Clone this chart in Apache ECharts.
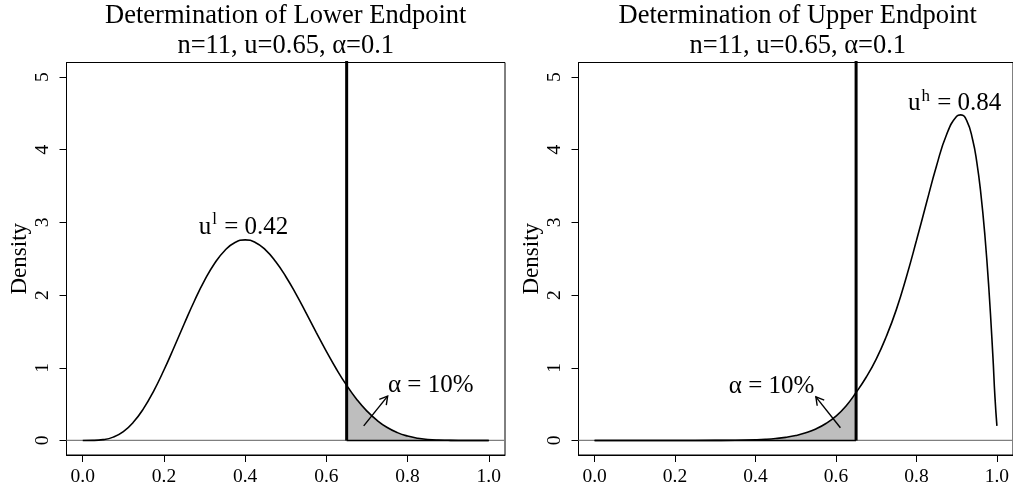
<!DOCTYPE html>
<html>
<head>
<meta charset="utf-8">
<script src="https://cdn.jsdelivr.net/npm/echarts@6/dist/echarts.min.js"></script>
<style>
html,body{margin:0;padding:0;background:#fff;}
#chart{width:1013px;height:490px;}
</style>
</head>
<body>
<div id="chart"></div>
<script>
// ---- data ----
const titleLeft = ['Determination of Lower Endpoint', 'n=11, u=0.65, α=0.1'];
const titleRight = ['Determination of Upper Endpoint', 'n=11, u=0.65, α=0.1'];
const xTicks = [0, 0.2, 0.4, 0.6, 0.8, 1.0];
const yTicks = [0, 1, 2, 3, 4, 5];
const cutoff = 0.65;

const xLeft = [0, 0.025, 0.05, 0.075, 0.10, 0.125, 0.15, 0.175, 0.20, 0.225, 0.25, 0.275,
               0.30, 0.325, 0.35, 0.375, 0.40, 0.425, 0.45, 0.475, 0.50, 0.525, 0.55, 0.575,
               0.60, 0.625, 0.65, 0.675, 0.70, 0.725, 0.75, 0.775, 0.80, 0.825, 0.85, 0.875,
               0.90, 0.925, 0.95, 1.00];
const densLeft = [0, 0.001, 0.011, 0.046, 0.123, 0.253, 0.441, 0.683, 0.969, 1.283, 1.606, 1.919,
                  2.201, 2.438, 2.614, 2.723, 2.759, 2.724, 2.622, 2.462, 2.256, 2.016, 1.755, 1.488,
                  1.226, 0.980, 0.758, 0.565, 0.404, 0.276, 0.178, 0.108, 0.061, 0.031, 0.014, 0.005,
                  0.002, 0.0003, 0, 0];

const xRight = [0, 0.10, 0.20, 0.30, 0.35, 0.40, 0.425, 0.45, 0.475, 0.50, 0.525, 0.55, 0.575,
                0.60, 0.625, 0.65, 0.675, 0.70, 0.725, 0.75, 0.775, 0.80, 0.825, 0.85, 0.875,
                0.90, 0.91, 0.925, 0.94, 0.95, 0.96, 0.97, 0.98, 0.99, 0.995, 1.00];
const densRight = [0, 0, 0, 0.001, 0.003, 0.009, 0.015, 0.026, 0.043, 0.068, 0.105, 0.158, 0.233,
                   0.335, 0.475, 0.660, 0.870, 1.120, 1.430, 1.800, 2.250, 2.750, 3.270, 3.780, 4.210,
                   4.460, 4.480, 4.400, 4.130, 3.830, 3.400, 2.830, 2.090, 1.160, 0.610, 0.200];

const arrowsLeft = [[0.692, 0.20, 0.751, 0.61]];
const arrowsRight = [[0.611, 0.175, 0.55, 0.60]];

const textsLeft = [
  {x: 0.396, y: 2.93, text: '{b|u}{s|l}{b| = 0.42}'},
  {x: 0.857, y: 0.76, text: '{b|α = 10%}'}
];
const textsRight = [
  {x: 0.895, y: 4.63, text: '{b|u}{s|h}{b| = 0.84}'},
  {x: 0.44, y: 0.75, text: '{b|α = 10%}'}
];

// ---- build ----
const FONT = 'Liberation Serif';
const pairs = (xs, ys) => xs.map((x, i) => [x, ys[i]]);
const curveL = pairs(xLeft, densLeft);
const curveR = pairs(xRight, densRight);
const shadeL = curveL.filter(p => p[0] >= cutoff);
const shadeR = curveR.filter(p => p[0] <= cutoff);

const grids = [
  {left: 66.5, top: 62.5, width: 438.5, height: 392.5},
  {left: 578.5, top: 62.5, width: 438.5, height: 392.5}
];

function xAxisFor(gi) {
  return {
    gridIndex: gi, type: 'value', min: -0.04, max: 1.04, position: 'bottom',
    axisLine: {show: true, onZero: false, lineStyle: {color: '#000', width: 1}},
    splitLine: {show: false},
    axisTick: {show: true, inside: false, customValues: xTicks, length: 7, lineStyle: {color: '#000', width: 1}},
    axisLabel: {show: true, customValues: xTicks, margin: 12, color: '#000',
      fontFamily: FONT, fontSize: 19.5, formatter: v => v.toFixed(1)}
  };
}
function yAxisFor(gi) {
  return {
    gridIndex: gi, type: 'value', min: -0.2, max: 5.2, position: 'left',
    name: 'Density', nameLocation: 'middle', nameGap: 30,
    nameTextStyle: {fontFamily: FONT, fontSize: 23, color: '#000'},
    axisLine: {show: true, onZero: false, lineStyle: {color: '#000', width: 1}},
    splitLine: {show: false},
    axisTick: {show: true, inside: false, customValues: yTicks, length: 7, lineStyle: {color: '#000', width: 1}},
    axisLabel: {show: true, customValues: yTicks, rotate: 90, margin: 14, color: '#000',
      fontFamily: FONT, fontSize: 19.5, formatter: v => String(v)}
  };
}

const rich = {
  b: {fontFamily: FONT, fontSize: 25, color: '#000', lineHeight: 32, textBorderWidth: 0, opacity: 1},
  s: {fontFamily: FONT, fontSize: 17, color: '#000', verticalAlign: 'top', lineHeight: 14, padding: [0, 1, 0, 1], textBorderWidth: 0, opacity: 1}
};

function panelSeries(gi, curve, shade, shadeFrom, shadeTo, arrows, texts) {
  const ax = {xAxisIndex: gi, yAxisIndex: gi};
  return [
    // zero reference line
    Object.assign({type: 'line', data: [[-0.04, 0], [1.04, 0]], symbol: 'none', silent: true,
      lineStyle: {color: '#7f7f7f', width: 1.2}, z: 1}, ax),
    // shaded tail polygon
    Object.assign({type: 'line', data: shade, symbol: 'none', smooth: true, silent: true,
      lineStyle: {width: 0}, areaStyle: {color: '#bebebe', opacity: 1}, z: 2}, ax),
    // polygon bottom border
    Object.assign({type: 'line', data: [[shadeFrom, 0], [shadeTo, 0]], symbol: 'none', silent: true,
      lineStyle: {color: '#000', width: 1.5}, z: 3}, ax),
    // density curve
    Object.assign({type: 'line', data: curve, symbol: 'none', smooth: true, silent: true,
      lineStyle: {color: '#000', width: 1.6}, z: 4}, ax),
    // cutoff line
    Object.assign({type: 'line', data: [[cutoff, 0], [cutoff, 5.3]], symbol: 'none', silent: true,
      lineStyle: {color: '#000', width: 3}, z: 5}, ax),
    // arrows
    Object.assign({type: 'custom', data: arrows, silent: true, z: 6,
      renderItem: (params, api) => {
        const p0 = api.coord([api.value(0), api.value(1)]);
        const p1 = api.coord([api.value(2), api.value(3)]);
        const ang = Math.atan2(p1[1] - p0[1], p1[0] - p0[0]);
        const L = 9, a = Math.PI / 6;
        const h1 = [p1[0] - L * Math.cos(ang - a), p1[1] - L * Math.sin(ang - a)];
        const h2 = [p1[0] - L * Math.cos(ang + a), p1[1] - L * Math.sin(ang + a)];
        return {type: 'group', children: [
          {type: 'line', shape: {x1: p0[0], y1: p0[1], x2: p1[0], y2: p1[1]}, style: {stroke: '#000', lineWidth: 1.4}},
          {type: 'polyline', shape: {points: [h1, p1, h2]}, style: {stroke: '#000', lineWidth: 1.4, fill: null}}
        ]};
      }}, ax),
    // annotation text
    Object.assign({type: 'scatter', symbolSize: 0, silent: true, z: 7,
      itemStyle: {opacity: 1},
      data: texts.map(t => ({value: [t.x, t.y], label: {formatter: t.text}})),
      label: {show: true, position: 'inside', color: '#000', opacity: 1, textBorderWidth: 0, rich: rich}}, ax)
  ];
}

const chart = echarts.init(document.getElementById('chart'), null, {renderer: 'canvas'});
const panelCenters = [66.5 + 438.5 / 2, 578.5 + 438.5 / 2];
const titleGraphics = [];
[titleLeft, titleRight].forEach((t, i) => {
  titleGraphics.push({type: 'text', x: panelCenters[i], y: 16, style: {text: t[0], fontFamily: FONT, fontSize: 26.5, fill: '#000', textAlign: 'center', textVerticalAlign: 'middle'}});
  titleGraphics.push({type: 'text', x: panelCenters[i], y: 46, style: {text: t[1], fontFamily: FONT, fontSize: 26.5, fill: '#000', textAlign: 'center', textVerticalAlign: 'middle'}});
});

chart.setOption({
  animation: false,
  backgroundColor: '#fff',
  grid: grids.map(g => Object.assign({show: true, borderColor: '#000', borderWidth: 1, backgroundColor: 'transparent'}, g)),
  xAxis: [xAxisFor(0), xAxisFor(1)],
  yAxis: [yAxisFor(0), yAxisFor(1)],
  graphic: titleGraphics,
  series: [].concat(
    panelSeries(0, curveL, shadeL, cutoff, 1.0, arrowsLeft, textsLeft),
    panelSeries(1, curveR, shadeR, 0, cutoff, arrowsRight, textsRight)
  )
});
</script>
</body>
</html>
